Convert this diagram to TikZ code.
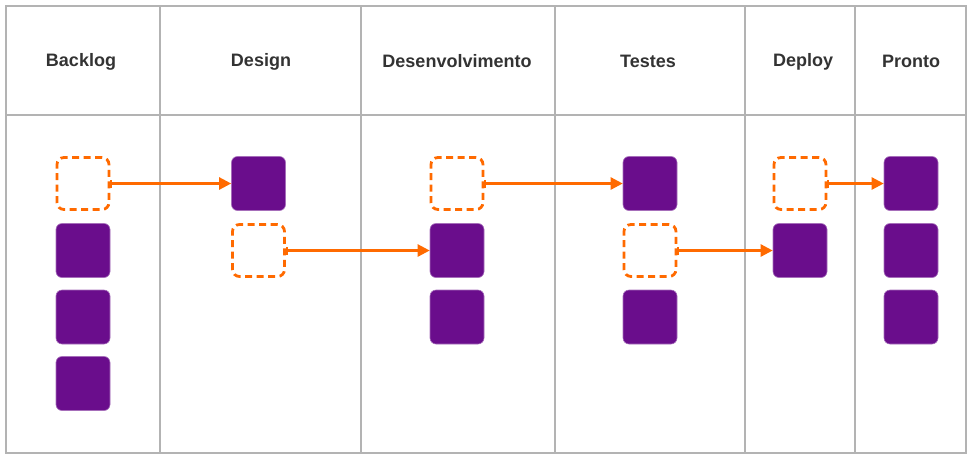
\documentclass[tikz,border=0pt]{standalone}
\usepackage{fontspec}
\setmainfont{Liberation Sans}
\usetikzlibrary{arrows.meta}
\definecolor{grid}{HTML}{B3B3B3}
\definecolor{card}{HTML}{6A0D8C}
\definecolor{flow}{HTML}{FF6A00}
\definecolor{ink}{HTML}{333333}
\begin{document}
\begin{tikzpicture}[x=1pt,y=-1pt,
  gridline/.style={draw=grid,line width=2.4pt},
  head/.style={font=\fontsize{18}{22}\selectfont\bfseries,text=ink,inner sep=0},
  card/.style={fill=card,draw=card!60!white,line width=0.6pt,rounded corners=6pt,minimum size=54pt,inner sep=0},
  slot/.style={draw=flow,line width=2.8pt,dash pattern=on 7pt off 4.5pt,rounded corners=7pt,minimum size=52pt,inner sep=0,fill=white},
  move/.style={draw=flow,line width=2.4pt,{Bar[width=8pt,line width=1.8pt]}-{Triangle[length=12pt,width=12pt]}}]
\useasboundingbox (0,0) rectangle (973,459);
% grid
\draw[gridline] (6,6) rectangle (966,453);
\draw[gridline] (6,115) -- (966,115);
\foreach \x in {160,361,555,745,855} \draw[gridline] (\x,6) -- (\x,453);
% headers
\node[head] (hB) at (81,61.5) {Backlog};
\node[head] (hD) at (261,61.5) {Design};
\node[head] (hV) at (457,61.5) {Desenvolvimento};
\node[head] (hT) at (648,61.5) {Testes};
\node[head] (hP) at (803,61.5) {Deploy};
\node[head] (hO) at (911,61.5) {Pronto};
% Backlog
\node[slot] (b1) at (83,183.5) {};
\node[card] (b2) at (83,250.5) {};
\node[card] (b3) at (83,317) {};
\node[card] (b4) at (83,383.5) {};
% Design
\node[card] (d1) at (258.5,183.5) {};
\node[slot] (d2) at (258.5,250.5) {};
% Desenvolvimento
\node[slot] (v1) at (457,183.5) {};
\node[card] (v2) at (457,250.5) {};
\node[card] (v3) at (457,317) {};
% Testes
\node[card] (t1) at (650,183.5) {};
\node[slot] (t2) at (650,250.5) {};
\node[card] (t3) at (650,317) {};
% Deploy
\node[slot] (p1) at (800,183.5) {};
\node[card] (p2) at (800,250.5) {};
% Pronto
\node[card] (o1) at (911,183.5) {};
\node[card] (o2) at (911,250.5) {};
\node[card] (o3) at (911,317) {};
% moves
\draw[move] (b1.east) -- (d1.west);
\draw[move] (d2.east) -- (v2.west);
\draw[move] (v1.east) -- (t1.west);
\draw[move] (t2.east) -- (p2.west);
\draw[move] (p1.east) -- (o1.west);
\end{tikzpicture}
\end{document}
